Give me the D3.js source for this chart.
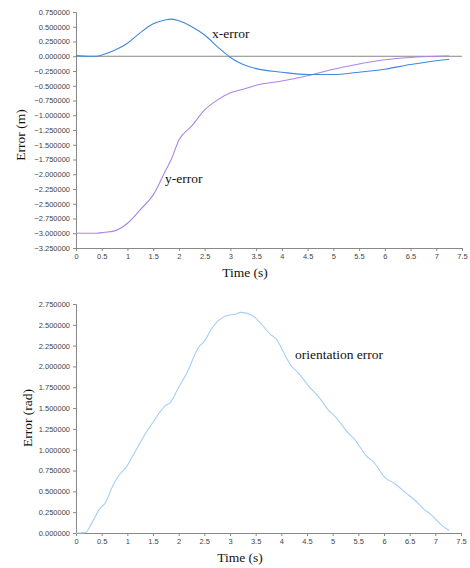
<!DOCTYPE html>
<html>
<head>
<meta charset="utf-8">
<script src="https://cdn.jsdelivr.net/npm/d3@7"></script>
<style>
body { margin: 0; background: #fff; }
svg .tick text { font-family: "Liberation Sans", Arial, sans-serif; font-size: 7.5px; fill: #444; }
svg .domain, svg .tick line { stroke: #888; }
</style>
</head>
<body>
<script>
// time samples (s)
var timeXY = [0, 0.25, 0.4, 0.5, 0.75, 1, 1.25, 1.5, 1.75, 1.85, 2, 2.25, 2.5, 2.75, 3, 3.25, 3.5, 4, 4.5, 5, 5.5, 6, 6.5, 7, 7.25];
var xError = [0.01, 0.0, 0.0, 0.02, 0.1, 0.22, 0.4, 0.55, 0.62, 0.63, 0.6, 0.5, 0.36, 0.16, -0.02, -0.14, -0.21, -0.27, -0.31, -0.31, -0.27, -0.22, -0.14, -0.075, -0.05];
var yError = [-3.0, -3.0, -3.0, -2.99, -2.96, -2.83, -2.6, -2.35, -1.92, -1.75, -1.42, -1.18, -0.91, -0.74, -0.62, -0.56, -0.49, -0.42, -0.33, -0.22, -0.13, -0.06, -0.02, 0.0, 0.005];

var timeOri = [0, 0.18, 0.30, 0.46, 0.58, 0.69, 0.80, 1.0, 1.11, 1.37, 1.5, 1.74, 1.84, 2.0, 2.15, 2.39, 2.51, 2.64, 2.77, 2.93, 3.12, 3.21, 3.44, 3.80, 3.90, 4.06, 4.19, 4.32, 4.58, 4.71, 4.94, 5.03, 5.32, 5.42, 5.68, 5.77, 6.03, 6.19, 6.45, 6.61, 6.77, 6.90, 7.11, 7.27];
var oriError = [0, 0.005, 0.11, 0.29, 0.37, 0.53, 0.66, 0.81, 0.93, 1.21, 1.33, 1.53, 1.57, 1.75, 1.91, 2.23, 2.31, 2.45, 2.55, 2.61, 2.63, 2.65, 2.61, 2.38, 2.33, 2.15, 2.01, 1.93, 1.73, 1.65, 1.46, 1.41, 1.19, 1.13, 0.91, 0.87, 0.66, 0.60, 0.47, 0.39, 0.29, 0.23, 0.10, 0.03];

var xTicks = [0, 0.5, 1, 1.5, 2, 2.5, 3, 3.5, 4, 4.5, 5, 5.5, 6, 6.5, 7, 7.5];
var yTicksTop = d3.range(-3.25, 0.751, 0.25);
var yTicksBot = d3.range(0, 2.751, 0.25);

var serif = '"Liberation Serif", "Times New Roman", Times, "DejaVu Serif", serif';

var svg = d3.select("body").append("svg")
    .attr("width", 470)
    .attr("height", 568);

var fmt = d3.format(".6f");

function drawAxes(g, x, y, yT, xAxisY) {
    g.append("g")
        .attr("transform", "translate(0," + xAxisY + ")")
        .call(d3.axisBottom(x).tickValues(xTicks).tickSize(3).tickFormat(d3.format("")));
    g.append("g")
        .attr("transform", "translate(" + x(0) + ",0)")
        .call(d3.axisLeft(y).tickValues(yT).tickSize(3).tickFormat(function(d) { return fmt(Math.abs(d) < 1e-9 ? 0 : d); }));
}

function label(g, txt, x, y, anchor, rot) {
    var t = g.append("text")
        .attr("font-family", serif)
        .attr("font-size", 13.5)
        .attr("fill", "#111")
        .attr("text-anchor", anchor)
        .text(txt);
    if (rot) t.attr("transform", "translate(" + x + "," + y + ") rotate(-90)");
    else t.attr("x", x).attr("y", y);
}

// top chart
var x1 = d3.scaleLinear().domain([0, 7.5]).range([76, 462]);
var y1 = d3.scaleLinear().domain([-3.25, 0.75]).range([248, 12]);
var topG = svg.append("g");
drawAxes(topG, x1, y1, yTicksTop, 248);

topG.append("line")
    .attr("x1", x1(0)).attr("x2", x1(7.5))
    .attr("y1", y1(0)).attr("y2", y1(0))
    .attr("stroke", "#666").attr("stroke-width", 0.8);

var line1 = d3.line()
    .x(function(d) { return x1(d[0]); })
    .y(function(d) { return y1(d[1]); })
    .curve(d3.curveMonotoneX);

topG.append("path")
    .attr("d", line1(d3.zip(timeXY, yError)))
    .attr("fill", "none").attr("stroke", "#aa85e6").attr("stroke-width", 1.1);
topG.append("path")
    .attr("d", line1(d3.zip(timeXY, xError)))
    .attr("fill", "none").attr("stroke", "#3f88de").attr("stroke-width", 1.1);

label(topG, "x-error", 212, 38, "start");
label(topG, "y-error", 165, 183, "start");
label(topG, "Time (s)", 245, 277, "middle");
label(topG, "Error (m)", 25, 135, "middle", true);

// bottom chart
var x2 = d3.scaleLinear().domain([0, 7.5]).range([76, 461]);
var y2 = d3.scaleLinear().domain([0, 2.75]).range([533, 304]);
var botG = svg.append("g");
drawAxes(botG, x2, y2, yTicksBot, 533);

var line2 = d3.line()
    .x(function(d) { return x2(d[0]); })
    .y(function(d) { return y2(d[1]); })
    .curve(d3.curveMonotoneX);

botG.append("path")
    .attr("d", line2(d3.zip(timeOri, oriError)))
    .attr("fill", "none").attr("stroke", "#a6cdf8").attr("stroke-width", 1.1);

label(botG, "orientation error", 295, 359, "start");
label(botG, "Time (s)", 240, 562, "middle");
label(botG, "Error (rad)", 32, 418, "middle", true);
</script>
</body>
</html>
